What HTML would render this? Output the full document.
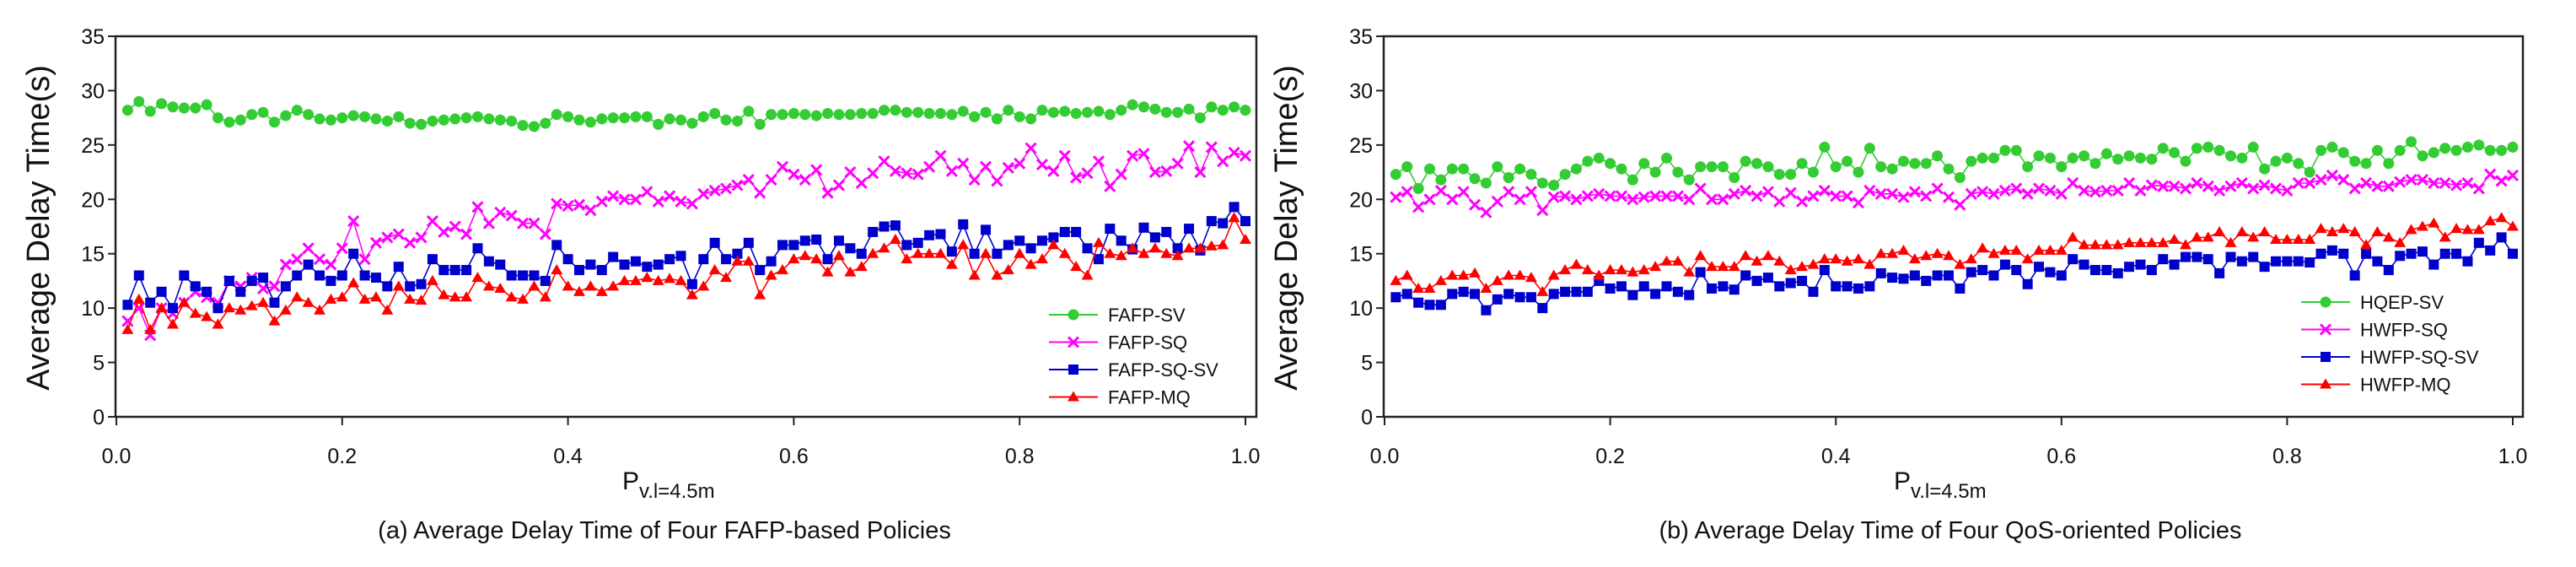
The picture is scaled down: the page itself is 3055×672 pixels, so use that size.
<!DOCTYPE html>
<html><head><meta charset="utf-8"><style>
html,body{margin:0;padding:0;background:#fff;}
svg{display:block;font-family:"Liberation Sans",Arial,sans-serif;}
</style></head><body>
<svg id="fig" width="3055" height="672" viewBox="0 0 3055 672" xmlns="http://www.w3.org/2000/svg"></svg>
<script>
const xTicks=[0,0.2,0.4,0.6,0.8,1.0];
const xTickLabels=["0.0","0.2","0.4","0.6","0.8","1.0"];
const yTicks=[0,5,10,15,20,25,30,35];
const xs=[];for(let i=1;i<=100;i++)xs.push(i/100);
const leftNames=["FAFP-SV","FAFP-SQ","FAFP-SQ-SV","FAFP-MQ"];
const rightNames=["HQEP-SV","HWFP-SQ","HWFP-SQ-SV","HWFP-MQ"];
const fafpSV=[28.2,29.0,28.1,28.8,28.5,28.4,28.4,28.7,27.5,27.1,27.3,27.8,28.0,27.1,27.7,28.2,27.8,27.4,27.3,27.5,
27.7,27.6,27.4,27.2,27.6,27.0,26.9,27.2,27.3,27.4,27.5,27.6,27.4,27.3,27.2,26.8,26.7,27.0,27.8,27.6,
27.3,27.1,27.4,27.5,27.5,27.6,27.6,26.9,27.4,27.3,27.0,27.6,27.9,27.3,27.2,28.1,26.9,27.8,27.8,27.9,
27.8,27.7,27.9,27.8,27.8,27.9,27.9,28.2,28.2,28.0,28.0,27.9,27.9,27.8,28.1,27.6,28.0,27.4,28.2,27.6,
27.4,28.2,28.0,28.1,27.9,28.0,28.1,27.8,28.2,28.7,28.5,28.3,28.0,28.0,28.3,27.5,28.5,28.2,28.5,28.2];
const fafpSQ=[8.8,10.0,7.5,10.0,9.5,10.5,11.5,11.0,10.5,12.5,12.0,12.8,11.8,12.0,14.0,14.5,15.5,14.5,14.0,15.5,
18.0,14.5,16.0,16.5,16.8,16.0,16.5,18.0,17.0,17.5,16.8,19.3,17.8,18.8,18.5,17.8,17.8,16.8,19.6,19.4,
19.5,19.0,19.8,20.3,20.0,20.0,20.7,19.8,20.3,19.8,
19.6,20.5,20.8,21.0,21.3,21.8,20.6,21.8,23.0,22.3,21.8,22.7,20.6,21.3,22.5,21.5,22.4,23.5,22.6,22.4,
22.3,23.0,24.0,22.6,23.3,21.8,23.0,21.7,22.9,23.3,24.7,23.2,22.6,24.0,22.0,22.4,23.5,21.2,22.3,24.0,
24.2,22.5,22.6,23.3,24.9,22.5,24.8,23.5,24.3,24.0];
const fafpSQSV=[10.3,13.0,10.5,11.5,10.0,13.0,12.0,11.5,10.0,12.5,11.5,12.5,12.8,10.5,12.0,13.0,14.0,13.0,12.5,13.0,
15.0,13.0,12.8,12.0,13.8,12.0,12.2,14.5,13.5,13.5,13.5,15.5,14.3,14.0,13.0,13.0,13.0,12.5,15.8,14.5,
13.5,14.0,13.5,14.7,14.0,14.3,13.8,14.0,14.5,14.8,12.2,14.5,16.0,14.5,15.0,16.0,13.5,14.3,15.8,15.8,
16.2,16.3,14.5,16.2,15.5,15.0,17.0,17.5,17.6,15.8,16.0,16.7,16.8,15.2,17.7,15.0,17.2,15.0,15.8,16.2,
15.5,16.2,16.5,17.0,17.0,15.5,14.5,17.3,16.2,15.4,17.4,16.5,17.0,15.5,17.3,15.3,18.0,17.8,19.3,18.0];
const fafpMQ=[8.0,10.8,8.0,10.0,8.5,10.5,9.5,9.2,8.5,10.0,9.8,10.2,10.5,8.8,9.8,11.0,10.5,9.8,10.8,11.0,
12.3,10.8,11.0,9.8,12.0,10.8,10.7,12.5,11.2,11.0,11.0,12.8,12.0,11.8,11.0,10.8,12.0,11.0,13.5,12.0,
11.5,12.0,11.5,12.0,12.5,12.5,12.8,12.5,12.7,12.5,11.2,12.0,13.5,12.8,14.3,14.3,11.2,13.0,13.5,14.5,
14.8,14.5,13.3,14.8,13.3,13.8,15.0,15.5,16.3,14.5,15.0,15.0,15.0,14.0,15.8,13.0,15.0,13.0,13.5,15.0,
14.0,14.5,15.8,15.0,13.8,13.0,16.0,15.0,14.8,15.5,15.0,15.5,15.0,14.8,15.5,15.5,15.7,15.8,18.3,16.3];
const hqepSV=[22.3,23.0,21.0,22.8,21.8,22.8,22.8,21.9,21.5,23.0,22.0,22.8,22.3,21.5,21.3,22.3,22.8,23.5,23.8,23.3,
22.8,21.8,23.3,22.5,23.8,22.5,21.8,23.0,23.0,23.0,22.0,23.5,23.3,23.0,22.3,22.3,23.3,22.5,24.8,23.0,
23.5,22.5,24.7,23.0,22.8,23.5,23.3,23.3,24.0,22.8,22.0,23.5,23.8,23.8,24.5,24.5,23.0,24.0,23.8,23.0,
23.8,24.0,23.3,24.2,23.7,24.0,23.8,23.7,24.7,24.3,23.5,24.7,24.8,24.5,24.0,23.8,24.8,22.8,23.5,23.8,
23.3,22.5,24.5,24.8,24.3,23.5,23.3,24.5,23.3,24.5,25.3,24.0,24.3,24.7,24.5,24.8,25.0,24.5,24.5,24.8];
const hwfpSQ=[20.2,20.7,19.3,20.0,20.8,20.0,20.7,19.5,18.8,19.8,20.7,20.0,20.7,19.0,20.2,20.3,20.0,20.3,20.5,20.3,
20.3,20.0,20.2,20.3,20.3,20.3,20.0,21.0,20.0,20.0,20.5,20.8,20.3,20.7,19.8,20.6,19.8,20.3,20.8,20.3,
20.3,19.7,20.8,20.5,20.5,20.2,20.7,20.3,21.0,20.2,19.5,20.5,20.7,20.5,20.8,21.0,20.5,21.0,20.8,20.5,
21.5,20.8,20.7,20.8,20.8,21.5,20.8,21.3,21.2,21.2,21.0,21.5,21.2,20.8,21.2,21.5,21.0,21.3,21.0,20.8,
21.5,21.5,21.8,22.2,21.8,21.0,21.5,21.2,21.2,21.6,21.8,21.8,21.5,21.5,21.3,21.5,21.0,22.3,21.7,22.2];
const hwfpSQSV=[11.0,11.3,10.5,10.3,10.3,11.3,11.5,11.3,9.8,10.8,11.3,11.0,11.0,10.0,11.3,11.5,11.5,11.5,12.5,11.8,
12.0,11.2,12.0,11.3,12.0,11.5,11.2,13.3,11.8,12.0,11.7,13.0,12.5,12.8,12.0,12.3,12.5,11.5,13.5,12.0,
12.0,11.8,12.0,13.2,12.8,12.7,13.0,12.5,13.0,13.0,11.8,13.3,13.5,13.0,14.0,13.5,12.2,13.8,13.3,13.0,
14.5,14.0,13.5,13.5,13.2,13.8,14.0,13.5,14.5,14.0,14.7,14.7,14.5,13.2,14.7,14.3,14.7,13.8,14.3,14.3,
14.3,14.2,15.0,15.3,15.0,13.0,15.0,14.3,13.5,14.8,15.0,15.2,14.0,15.0,15.0,14.3,16.0,15.3,16.5,15.0];
const hwfpMQ=[12.5,13.0,11.8,11.8,12.5,13.0,13.0,13.2,11.8,12.5,13.0,13.0,12.8,11.5,13.0,13.5,14.0,13.5,13.0,13.5,
13.5,13.3,13.5,13.8,14.3,14.3,13.3,14.8,13.8,13.8,13.8,14.8,14.3,14.8,14.3,13.5,13.8,14.0,14.5,14.5,
14.3,14.5,14.0,15.0,15.0,15.3,14.5,14.8,15.0,14.8,14.0,14.5,15.5,15.0,15.3,15.3,14.5,15.3,15.3,15.3,
16.5,15.8,15.8,15.8,15.8,16.0,16.0,16.0,16.0,16.3,15.8,16.5,16.5,17.0,16.0,17.0,16.5,17.0,16.3,16.3,
16.3,16.3,17.3,17.0,17.3,17.0,15.8,17.0,16.5,16.0,17.2,17.5,17.8,16.5,17.3,17.2,17.2,18.0,18.3,17.5];

const NS="http://www.w3.org/2000/svg";
const svg=document.getElementById('fig');
function mk(tag,attrs,parent){const e=document.createElementNS(NS,tag);for(const k in attrs)e.setAttribute(k,attrs[k]);(parent||svg).appendChild(e);return e;}
const colors=["#33cc33","#ff00ff","#0000cc","#ff0000"];
const kinds=["circle","x","square","tri"];
function marker(g,kind,cx,cy,col){
  let m;
  if(kind==="circle"){m=mk('circle',{cx:cx,cy:cy,r:6.5,fill:col},g);}
  else if(kind==="x"){m=mk('path',{d:`M${cx-6},${cy-6}L${cx+6},${cy+6}M${cx-6},${cy+6}L${cx+6},${cy-6}`,stroke:col,'stroke-width':3,fill:'none'},g);}
  else if(kind==="square"){m=mk('rect',{x:cx-6,y:cy-6,width:12,height:12,fill:col},g);}
  else {m=mk('path',{d:`M${cx},${cy-7}L${cx+7},${cy+5}L${cx-7},${cy+5}Z`,fill:col},g);}
  
  
}
function chart(cfg){
  const g=mk('g',{});
  
  
  const X=v=>cfg.x0+(v)*(cfg.x1-cfg.x0);
  const Y=v=>cfg.yb-v*(cfg.yb-cfg.yt)/35;
  const frame=mk('rect',{x:cfg.left,y:cfg.yt,width:cfg.right-cfg.left,height:cfg.yb-cfg.yt,fill:'none',stroke:'#222','stroke-width':2.5},g);
  
  
  yTicks.forEach(t=>{
    const l=mk('line',{x1:cfg.left-9,x2:cfg.left,y1:Y(t),y2:Y(t),stroke:'#222','stroke-width':2},g);
    
    
    const tx=mk('text',{x:cfg.left-13,y:Y(t)+9,'text-anchor':'end','font-size':25,fill:'#111'},g);
    tx.textContent=String(t);
    
    
  });
  xTicks.forEach((t,i)=>{
    const l=mk('line',{x1:X(t),x2:X(t),y1:cfg.yb,y2:cfg.yb+10,stroke:'#222','stroke-width':2},g);
    
    
    const tx=mk('text',{x:X(t),y:549,'text-anchor':'middle','font-size':25,fill:'#111'},g);
    tx.textContent=xTickLabels[i];
    
    
  });
  const yt=mk('text',{x:0,y:0,'text-anchor':'middle','font-size':38,fill:'#111',transform:`translate(${cfg.ytx},270) rotate(-90)`},g);
  yt.textContent='Average Delay Time(s)';
  
  
  const xt=mk('text',{x:cfg.px,y:580,'font-size':30,fill:'#111'},g);
  
  
  const t1=mk('tspan',{},xt);t1.textContent='P';
  const t2=mk('tspan',{'font-size':24,dy:10},xt);t2.textContent='v.l=4.5m';
  const cap=mk('text',{x:cfg.capx,y:638,'text-anchor':'middle','font-size':29,fill:'#111'},g);
  cap.textContent=cfg.caption;
  
  
  cfg.series.forEach((s,si)=>{
    const sg=mk('g',{},g);
    
    
    const pts=s.map((v,i)=>X(xs[i]).toFixed(1)+','+Y(v).toFixed(1)).join(' ');
    const pl=mk('polyline',{points:pts,fill:'none',stroke:colors[si],'stroke-width':1.6},sg);
    
    
    s.forEach((v,i)=>marker(sg,kinds[si],X(xs[i]),Y(v),colors[si]));
  });
  const lg=mk('g',{},g);
  
  
  cfg.names.forEach((n,i)=>{
    const ly=cfg.legY+i*32.5;
    const eg=mk('g',{},lg);
    
    
    mk('line',{x1:cfg.legX,x2:cfg.legX+58,y1:ly,y2:ly,stroke:colors[i],'stroke-width':2},eg);
    marker(eg,kinds[i],cfg.legX+29,ly,colors[i]);
    const tx=mk('text',{x:cfg.legX+70,y:ly+8,'font-size':22,fill:'#111'},eg);
    tx.textContent=n;
  });
}
chart({id:'chart-a',left:137,right:1490,x0:138,x1:1477,yt:43,yb:494,ytx:58,px:738,capx:788,
  caption:'(a) Average Delay Time of Four FAFP-based Policies',names:leftNames,
  series:[fafpSV,fafpSQ,fafpSQSV,fafpMQ],legX:1244,legY:373});
chart({id:'chart-b',left:1641,right:2992,x0:1642,x1:2980,yt:43,yb:494,ytx:1538,px:2246,capx:2313,
  caption:'(b) Average Delay Time of Four QoS-oriented Policies',names:rightNames,
  series:[hqepSV,hwfpSQ,hwfpSQSV,hwfpMQ],legX:2729,legY:358});
</script>
</body></html>
